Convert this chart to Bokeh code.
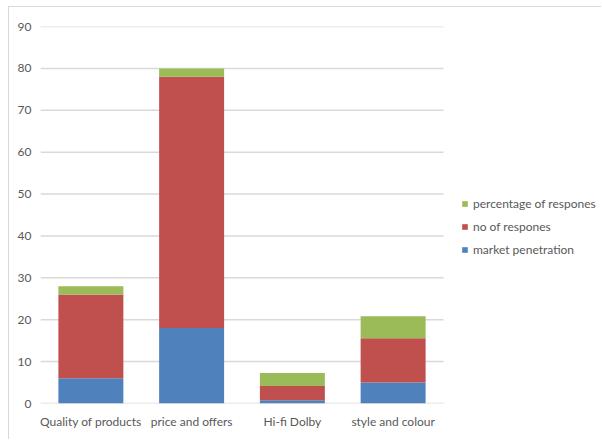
from bokeh.plotting import figure
from bokeh.models import ColumnDataSource, Range1d, Legend, LegendItem, FixedTicker
from bokeh.embed import file_html
from bokeh.resources import INLINE

# Survey results per feature, stacked by measure
categories = ["Quality of products", "price and offers", "Hi-fi Dolby", "style and colour"]
market_penetration = [6, 18, 0.8, 5]
no_of_respones = [20, 60, 3.4, 10.6]
percentage_of_respones = [2, 2, 3.1, 5.2]

series = ["market_penetration", "no_of_respones", "percentage_of_respones"]
series_labels = ["market penetration", "no of respones", "percentage of respones"]
colors = ["#4F81BD", "#C0504D", "#9BBB59"]
y_ticks = list(range(0, 91, 10))

FONT = "Lato"
TEXT_COLOR = "#595959"
GRID_COLOR = "#D9D9D9"

# layout in pixels: bar area width and the full plotting width (bars + legend)
BAR_AREA_PX = 403
FRAME_PX = 562

n = len(categories)
positions = list(range(n))

source = ColumnDataSource(dict(
    x=positions,
    market_penetration=market_penetration,
    no_of_respones=no_of_respones,
    percentage_of_respones=percentage_of_respones,
))

p = figure(
    x_range=Range1d(-0.5, -0.5 + n * FRAME_PX / BAR_AREA_PX),
    y_range=Range1d(0, 90),
    width=593, height=433,
    min_border_left=31, min_border_right=0,
    min_border_top=19, min_border_bottom=37,
    output_backend="svg", toolbar_location=None,
)
p.styles = {
    "border-left": f"1px solid {GRID_COLOR}",
    "border-top": f"1px solid {GRID_COLOR}",
    "margin-left": "8px",
    "margin-top": "6px",
}
p.outline_line_color = None
p.background_fill_color = "white"
p.border_fill_color = "white"
p.xgrid.grid_line_color = None
p.ygrid.grid_line_color = None

# horizontal gridlines spanning only the category area
p.segment(x0=-0.5, x1=n - 0.5, y0=y_ticks, y1=y_ticks,
          line_color=GRID_COLOR, line_width=1.5)

renderers = p.vbar_stack(series, x="x", width=0.645, color=colors,
                         line_color=None, source=source)

p.yaxis.ticker = FixedTicker(ticks=y_ticks)
p.yaxis.major_label_standoff = 9

p.xaxis.ticker = FixedTicker(ticks=positions)
p.xaxis.major_label_overrides = {i: c for i, c in zip(positions, categories)}
p.xaxis.major_label_standoff = 10

for ax in (p.xaxis, p.yaxis):
    ax.axis_line_color = None
    ax.major_tick_line_color = None
    ax.minor_tick_line_color = None
    ax.major_tick_out = 0
    ax.major_tick_in = 0
    ax.minor_tick_out = 0
    ax.minor_tick_in = 0
    ax.major_label_text_font = FONT
    ax.major_label_text_font_size = "12px"
    ax.major_label_text_color = TEXT_COLOR

legend = Legend(
    items=[LegendItem(label=series_labels[i], renderers=[renderers[i]]) for i in (2, 1, 0)],
    location=(421, 144),
    orientation="vertical",
    padding=0, margin=0, spacing=3,
    glyph_width=7, glyph_height=7, label_height=20,
    label_standoff=5,
    label_text_font=FONT, label_text_font_size="12px", label_text_color=TEXT_COLOR,
    border_line_color=None, background_fill_alpha=0,
)
p.add_layout(legend)

open("out.html", "w").write(file_html(p, INLINE))
